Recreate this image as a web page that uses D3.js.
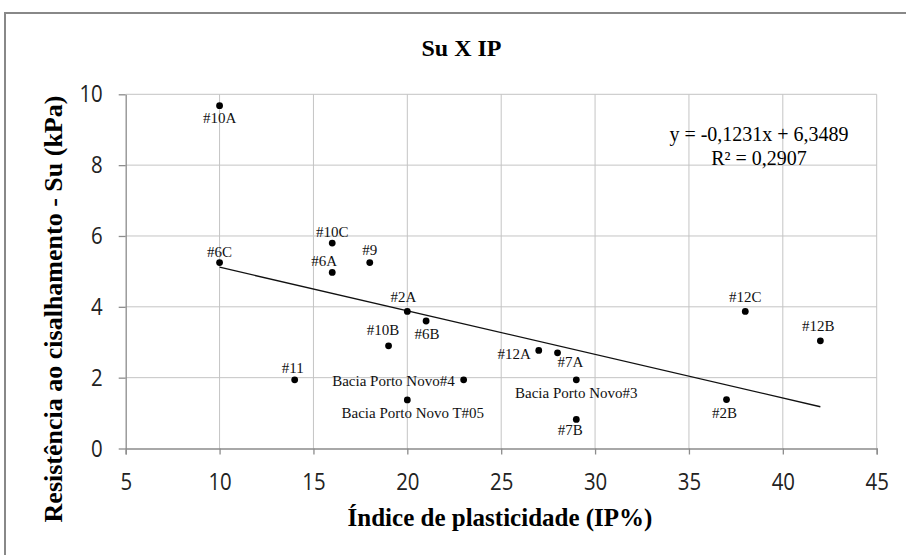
<!DOCTYPE html>
<html>
<head>
    <meta charset="utf-8">
    <title>Su X IP</title>
    <script src="https://cdnjs.cloudflare.com/ajax/libs/d3/7.8.5/d3.min.js"></script>
    <style>
        body {
            margin: 0;
            background-color: white;
        }
        .grid line {
            stroke: #c4c4c4;
            stroke-width: 1px;
        }
        .axis path, .axis line {
            stroke: #8c8c8c;
            stroke-width: 1.3px;
        }
        .axis text {
            font-family: "Open Sans", sans-serif;
            font-size: 24px;
            fill: #222;
        }
        .pt-label {
            font-family: "Liberation Serif", "Times New Roman", serif;
            font-size: 15px;
            fill: #111;
        }
    </style>
</head>
<body>
    <div id="chart"></div>

    <script>
        // Data
        const sampleNames = ["#10A", "#6C", "#10C", "#6A", "#9", "#2A", "#6B", "#10B", "#11",
            "Bacia Porto Novo#4", "Bacia Porto Novo T#05", "#12A", "#7A", "Bacia Porto Novo#3",
            "#7B", "#12C", "#12B", "#2B"];
        const ipValues = [10, 10, 16, 16, 18, 20, 21, 19, 14, 23, 20, 27, 28, 29, 29, 38, 42, 37];
        const suValues = [9.68, 5.25, 5.8, 4.97, 5.25, 3.87, 3.6, 2.9, 1.94, 1.94, 1.37, 2.77, 2.7, 1.94, 0.82, 3.87, 3.04, 1.38];

        const xTicks = [5, 10, 15, 20, 25, 30, 35, 40, 45];
        const yTicks = [0, 2, 4, 6, 8, 10];

        // trendline shown on the chart: y = -0,1231x + 6,3489
        const trendSlope = -0.1231;
        const trendIntercept = 6.3489;
        const trendRange = [10, 42];
        const equationText = ["y = -0,1231x + 6,3489", "R\u00b2 = 0,2907"];

        const width = 906;
        const height = 555;
        const plot = {left: 125.7, right: 876.7, top: 94.3, bottom: 448.5};

        const svg = d3.select("#chart")
            .append("svg")
            .attr("width", width)
            .attr("height", height);

        // outer chart frame (cropped on right and bottom)
        svg.append("path")
            .attr("d", `M5,${height} L5,13 L${width},13`)
            .attr("fill", "none")
            .attr("stroke", "#888")
            .attr("stroke-width", 2);

        const x = d3.scaleLinear().domain([5, 45]).range([plot.left, plot.right]);
        const y = d3.scaleLinear().domain([0, 10]).range([plot.bottom, plot.top]);

        // gridlines
        svg.append("g")
            .attr("class", "grid")
            .selectAll("line.v")
            .data(xTicks.slice(1))
            .enter().append("line")
            .attr("x1", d => x(d)).attr("x2", d => x(d))
            .attr("y1", plot.top).attr("y2", plot.bottom);
        svg.select(".grid")
            .selectAll("line.h")
            .data(yTicks.slice(1))
            .enter().append("line")
            .attr("x1", plot.left).attr("x2", plot.right)
            .attr("y1", d => y(d)).attr("y2", d => y(d));

        // axes
        const xAxis = svg.append("g")
            .attr("class", "axis")
            .attr("transform", `translate(0,${plot.bottom})`)
            .call(d3.axisBottom(x).tickValues(xTicks).tickSize(6).tickSizeOuter(6).tickPadding(18));
        xAxis.selectAll("text").attr("transform", "scale(0.85,1)");

        const yAxis = svg.append("g")
            .attr("class", "axis")
            .attr("transform", `translate(${plot.left},0)`)
            .call(d3.axisLeft(y).tickValues(yTicks).tickSize(7).tickSizeOuter(0).tickPadding(20));
        yAxis.selectAll("text").attr("transform", "scale(0.85,1)");

        // trendline
        svg.append("line")
            .attr("x1", x(trendRange[0]))
            .attr("y1", y(trendSlope * trendRange[0] + trendIntercept))
            .attr("x2", x(trendRange[1]))
            .attr("y2", y(trendSlope * trendRange[1] + trendIntercept))
            .attr("stroke", "#111")
            .attr("stroke-width", 1.3);

        // points
        const points = sampleNames.map((n, i) => ({name: n, ip: ipValues[i], su: suValues[i]}));

        svg.append("g")
            .selectAll("circle")
            .data(points)
            .enter().append("circle")
            .attr("cx", d => x(d.ip))
            .attr("cy", d => y(d.su))
            .attr("r", 3.4)
            .attr("fill", "#000");

        // label placement: [dx, dy of label centre, anchor]
        const labelPlace = {
            "#10A": [0, 12, "middle"],
            "#6C": [0, -11, "middle"],
            "#10C": [0, -11.5, "middle"],
            "#6A": [-8, -11, "middle"],
            "#9": [0, -13, "middle"],
            "#2A": [-4, -14.5, "middle"],
            "#6B": [1, 13, "middle"],
            "#10B": [-5.5, -16, "middle"],
            "#11": [-2, -12, "middle"],
            "Bacia Porto Novo#4": [-9, 1, "end"],
            "Bacia Porto Novo T#05": [5.5, 13.3, "middle"],
            "#12A": [-8, 3.7, "end"],
            "#7A": [13, 9, "middle"],
            "Bacia Porto Novo#3": [0, 13.6, "middle"],
            "#7B": [-6, 11, "middle"],
            "#12C": [0, -14.6, "middle"],
            "#12B": [-2, -14.7, "middle"],
            "#2B": [-2, 13, "middle"]
        };

        svg.append("g")
            .selectAll("text")
            .data(points)
            .enter().append("text")
            .attr("class", "pt-label")
            .attr("x", d => x(d.ip) + labelPlace[d.name][0])
            .attr("y", d => y(d.su) + labelPlace[d.name][1] + 5)
            .attr("text-anchor", d => labelPlace[d.name][2])
            .text(d => d.name);

        // equation
        svg.append("g")
            .selectAll("text")
            .data(equationText)
            .enter().append("text")
            .attr("x", 759)
            .attr("y", (d, i) => 141 + i * 23.5)
            .attr("text-anchor", "middle")
            .style("font-family", "'Liberation Serif', serif")
            .style("font-size", "20px")
            .text(d => d);

        // titles
        svg.append("text")
            .attr("x", 461.5)
            .attr("y", 56)
            .attr("text-anchor", "middle")
            .style("font-family", "'Liberation Serif', serif")
            .style("font-weight", "bold")
            .style("font-size", "24px")
            .text("Su X IP");

        svg.append("text")
            .attr("x", 500)
            .attr("y", 526)
            .attr("text-anchor", "middle")
            .style("font-family", "'Liberation Serif', serif")
            .style("font-weight", "bold")
            .style("font-size", "25px")
            .text("Índice de plasticidade (IP%)");

        svg.append("text")
            .attr("transform", "translate(62,309) rotate(-90)")
            .attr("text-anchor", "middle")
            .style("font-family", "'Liberation Serif', serif")
            .style("font-weight", "bold")
            .style("font-size", "26px")
            .text("Resistência ao cisalhamento - Su (kPa)");
    </script>
</body>
</html>
